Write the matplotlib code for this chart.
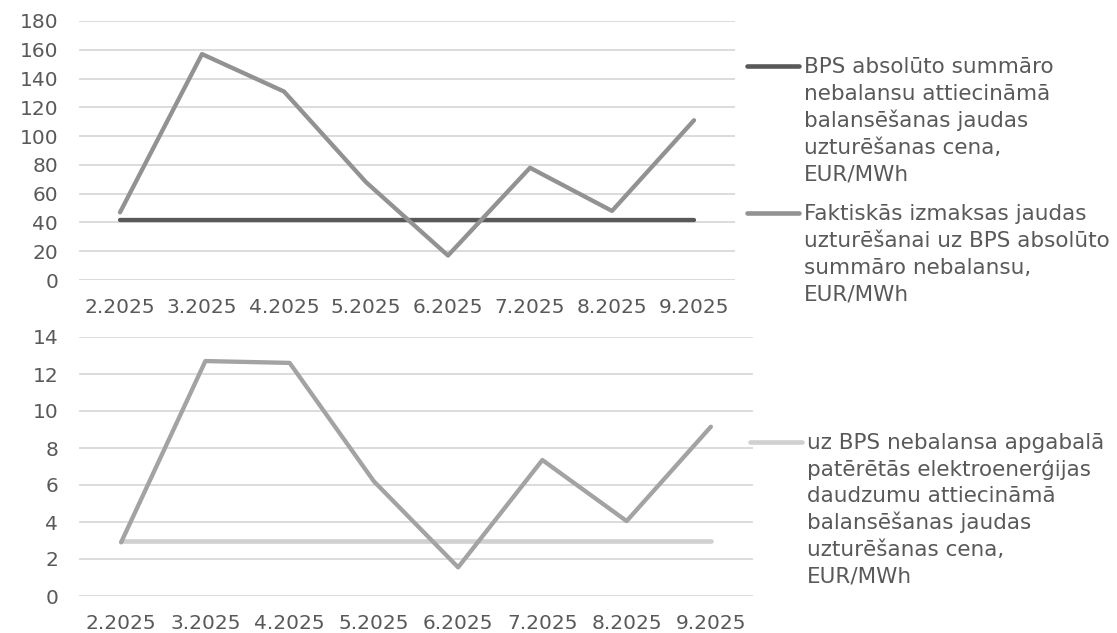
import matplotlib.pyplot as plt
from matplotlib.lines import Line2D

# Data
months = ["2.2025", "3.2025", "4.2025", "5.2025", "6.2025", "7.2025", "8.2025", "9.2025"]
bps_abs_price = [42, 42, 42, 42, 42, 42, 42, 42]
actual_costs = [47, 157, 131, 68, 17, 78, 48, 111]
bps_consumed_price = [3.0, 3.0, 3.0, 3.0, 3.0, 3.0, 3.0, 3.0]
actual_costs_consumed = [2.9, 12.7, 12.6, 6.2, 1.55, 7.35, 4.05, 9.15]

label_abs = ["BPS absolūto summāro", "nebalansu attiecināmā", "balansēšanas jaudas",
             "uzturēšanas cena,", "EUR/MWh"]
label_actual = ["Faktiskās izmaksas jaudas", "uzturēšanai uz BPS absolūto",
                "summāro nebalansu,", "EUR/MWh"]
label_consumed = ["uz BPS nebalansa apgabalā", "patērētās elektroenerģijas",
                  "daudzumu attiecināmā", "balansēšanas jaudas",
                  "uzturēšanas cena,", "EUR/MWh"]

# Colours
text_col = "#595959"
grid_col = "#D9D9D9"
dark_col = "#595959"
mid_col = "#929292"
mid_col2 = "#A3A3A3"
light_col = "#D0D0D0"

plt.rcParams['font.family'] = ['DejaVu Sans']

fig = plt.figure(figsize=(11.17, 6.33), dpi=100)
W, H = 1117, 633

def px_axes(x0, x1, y0, y1):
    # pixel box (from top-left) -> figure axes
    return fig.add_axes([x0 / W, 1 - y1 / H, (x1 - x0) / W, (y1 - y0) / H])

ax1 = px_axes(79, 735, 21, 280)
ax2 = px_axes(79, 753, 337, 596)

x = range(len(months))

ax1.plot(x, bps_abs_price, color=dark_col, lw=3.1, solid_capstyle="round", zorder=3)
ax1.plot(x, actual_costs, color=mid_col, lw=3.1, solid_capstyle="round", zorder=3)
ax1.set_ylim(0, 180)
ax1.set_yticks(range(0, 181, 20))

ax2.plot(x, bps_consumed_price, color=light_col, lw=3.3, solid_capstyle="round", zorder=3)
ax2.plot(x, actual_costs_consumed, color=mid_col2, lw=3.1, solid_capstyle="round", zorder=3)
ax2.set_ylim(0, 14)
ax2.set_yticks(range(0, 15, 2))

for ax in (ax1, ax2):
    ax.set_xlim(-0.5, len(months) - 0.5)
    ax.set_xticks(list(x))
    ax.set_xticklabels(months)
    ax.grid(axis="y", color=grid_col, lw=1.3)
    ax.set_axisbelow(True)
    for s in ax.spines.values():
        s.set_visible(False)
    ax.tick_params(axis="both", length=0, labelsize=14.5, colors=text_col)
    ax.tick_params(axis="y", pad=15)
    ax.tick_params(axis="x", pad=13)

# Legends (Excel-like: handle aligned with the first text line, even line spacing)
def legend_entry(y_px, x0_px, x1_px, color, lines, step=26.9):
    fig.add_artist(Line2D([x0_px / W, x1_px / W], [1 - y_px / H, 1 - y_px / H],
                          color=color, lw=3.3, solid_capstyle="round"))
    for i, line in enumerate(lines):
        fig.text((x1_px + 5) / W, 1 - (y_px + 7 + i * step) / H, line, fontsize=15.5,
                 color=text_col, va="baseline", ha="left")

legend_entry(66, 747, 799, dark_col, label_abs)
legend_entry(213, 747, 799, mid_col, label_actual)
legend_entry(442, 750, 802, light_col, label_consumed, step=26.7)

fig.savefig("out.png", dpi=100)
